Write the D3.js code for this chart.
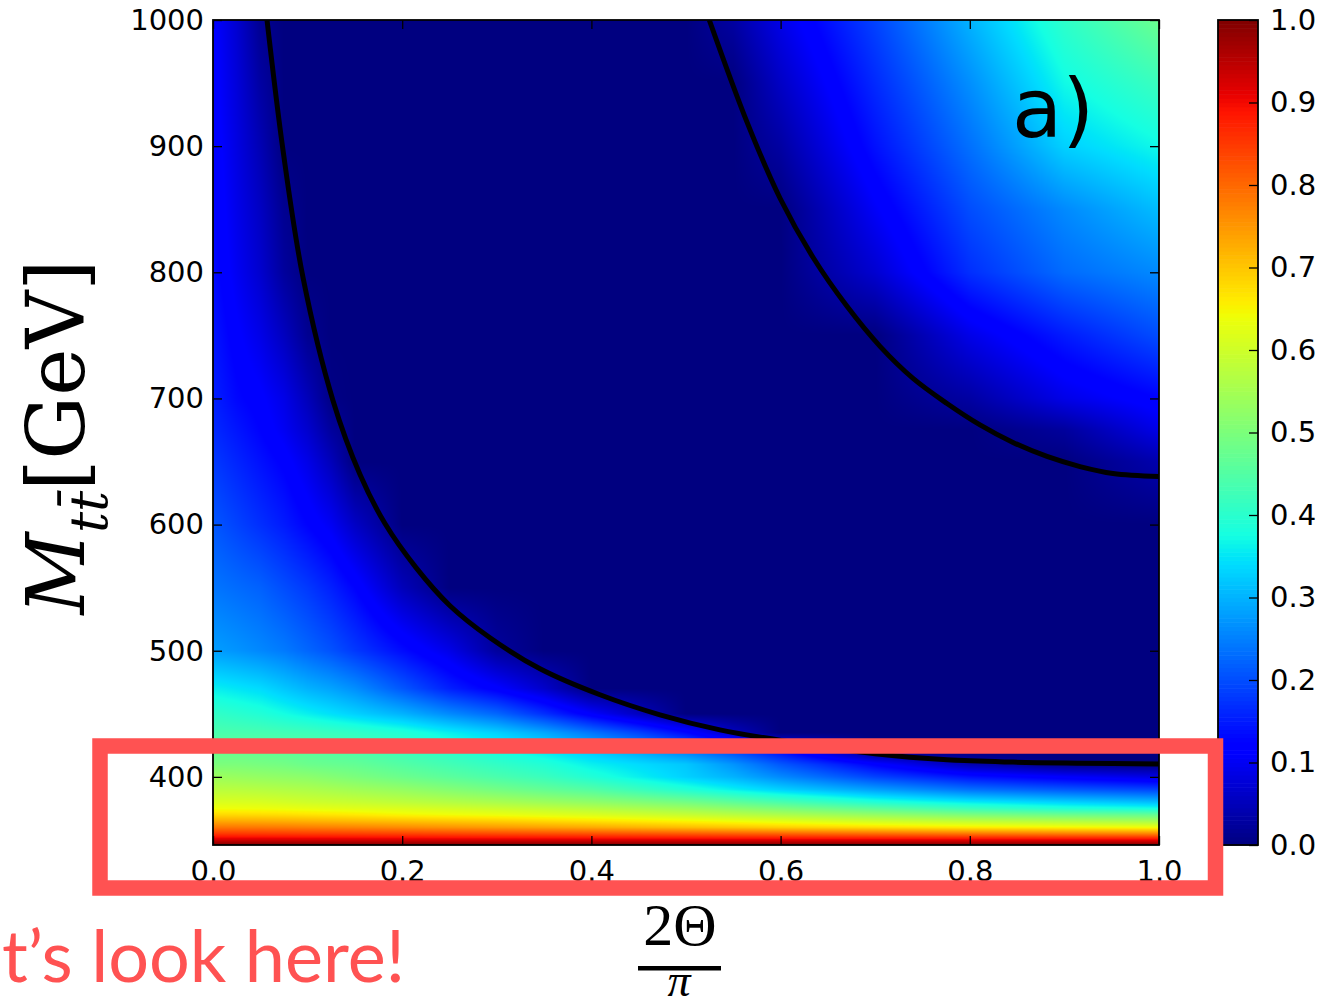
<!DOCTYPE html>
<html><head><meta charset="utf-8">
<script src="https://cdn.jsdelivr.net/npm/d3@7"></script>
<style>body{margin:0;background:#fff}svg{display:block}</style>
</head><body>
<svg id="chart" width="1340" height="1006"></svg>
<script>
// ---- data ----
const xGrid = [0, 0.025, 0.05, 0.075, 0.1, 0.125, 0.15, 0.2, 0.25, 0.3, 0.35, 0.4, 0.45, 0.5, 0.55, 0.6, 0.7, 0.8, 0.9, 1.0];
const mGrid = [346, 350, 355, 360, 365, 370, 375, 380, 390, 400, 410, 420, 435, 450, 470, 500, 550, 600, 650, 675, 700, 750, 800, 850, 900, 950, 1000];
const zGrid = [
  [1,1,1,1,1,1,1,1,1,1,1,1,1,1,1,1,1,1,1,1],
  [0.93,0.93,0.93,0.929,0.928,0.928,0.927,0.926,0.925,0.924,0.923,0.922,0.921,0.92,0.919,0.918,0.916,0.914,0.912,0.91],
  [0.85,0.85,0.849,0.848,0.846,0.845,0.843,0.84,0.836,0.832,0.828,0.824,0.82,0.815,0.81,0.805,0.795,0.785,0.777,0.77],
  [0.785,0.784,0.782,0.78,0.776,0.773,0.77,0.762,0.754,0.746,0.738,0.73,0.72,0.71,0.7,0.69,0.675,0.66,0.65,0.64],
  [0.73,0.729,0.727,0.724,0.72,0.716,0.712,0.705,0.697,0.69,0.68,0.67,0.66,0.65,0.637,0.625,0.6,0.58,0.565,0.55],
  [0.68,0.679,0.677,0.674,0.67,0.666,0.662,0.65,0.642,0.635,0.625,0.615,0.603,0.59,0.575,0.56,0.53,0.5,0.48,0.47],
  [0.64,0.639,0.637,0.634,0.63,0.626,0.622,0.615,0.605,0.595,0.583,0.57,0.555,0.54,0.52,0.5,0.46,0.42,0.39,0.375],
  [0.615,0.614,0.612,0.606,0.6,0.596,0.592,0.58,0.568,0.555,0.54,0.525,0.508,0.49,0.465,0.44,0.39,0.355,0.33,0.31],
  [0.575,0.574,0.57,0.565,0.56,0.553,0.545,0.53,0.51,0.49,0.47,0.45,0.42,0.39,0.36,0.33,0.28,0.235,0.21,0.19],
  [0.54,0.535,0.53,0.525,0.52,0.51,0.5,0.48,0.46,0.44,0.42,0.39,0.36,0.33,0.3,0.26,0.19,0.14,0.11,0.085],
  [0.5,0.5,0.495,0.49,0.48,0.475,0.47,0.45,0.43,0.41,0.39,0.36,0.34,0.32,0.27,0.21,0.12,0.04,0.005,0],
  [0.475,0.474,0.47,0.465,0.46,0.452,0.445,0.425,0.405,0.38,0.355,0.325,0.29,0.25,0.2,0.14,0,0,0,0],
  [0.44,0.438,0.435,0.43,0.425,0.418,0.41,0.39,0.36,0.33,0.29,0.24,0.19,0.13,0.055,0,0,0,0,0],
  [0.41,0.4,0.39,0.375,0.36,0.345,0.33,0.3,0.26,0.225,0.17,0.11,0.055,0,0,0,0,0,0,0],
  [0.36,0.35,0.34,0.32,0.3,0.285,0.265,0.21,0.155,0.115,0.065,0,0,0,0,0,0,0,0,0],
  [0.28,0.27,0.258,0.245,0.225,0.205,0.18,0.135,0.09,0.025,0,0,0,0,0,0,0,0,0,0],
  [0.24,0.23,0.22,0.2,0.18,0.155,0.125,0.05,0,0,0,0,0,0,0,0,0,0,0,0],
  [0.21,0.19,0.17,0.15,0.125,0.1,0.06,0,0,0,0,0,0,0,0,0,0,0,0,0],
  [0.18,0.16,0.14,0.12,0.09,0.05,0,0,0,0,0,0,0,0,0,0,0,0,0,0.04],
  [0.165,0.145,0.125,0.1,0.068,0.025,0,0,0,0,0,0,0,0,0,0,0,0,0.025,0.09],
  [0.155,0.13,0.115,0.09,0.05,0.005,0,0,0,0,0,0,0,0,0,0,0,0.03,0.09,0.125],
  [0.145,0.115,0.09,0.055,0.015,0,0,0,0,0,0,0,0,0,0,0,0,0.09,0.15,0.2],
  [0.135,0.1,0.068,0.025,0,0,0,0,0,0,0,0,0,0,0,0,0.07,0.17,0.23,0.26],
  [0.13,0.092,0.058,0.015,0,0,0,0,0,0,0,0,0,0,0,0,0.105,0.2,0.26,0.31],
  [0.125,0.085,0.045,0,0,0,0,0,0,0,0,0,0,0,0,0.03,0.14,0.235,0.33,0.37],
  [0.12,0.078,0.03,0,0,0,0,0,0,0,0,0,0,0,0,0.06,0.165,0.265,0.37,0.42],
  [0.115,0.07,0.015,0,0,0,0,0,0,0,0,0,0,0,0.03,0.09,0.19,0.3,0.405,0.48]
];
const lowerContour = [[0.0571,1000],[0.074,896.8],[0.0951,796],[0.1268,698.4],[0.1554,639.7],[0.1818,600.8],[0.2146,565.9],[0.2505,535.7],[0.2928,510.3],[0.3457,485.7],[0.4091,465.1],[0.4725,449.2],[0.5359,437.3],[0.6099,427.8],[0.6998,418.3],[0.7759,413.5],[0.8457,411.7],[0.9165,410.9],[1.0,410.3]];
const upperContour = [[0.5246,1000],[0.5645,919],[0.5994,858.7],[0.6342,811.9],[0.6702,773],[0.7051,741.3],[0.74,715.9],[0.7759,696],[0.8108,679],[0.8457,665.1],[0.8816,654],[0.9165,646],[0.9514,640.5],[1.0,638.1]];
const xTicks = [0, 0.2, 0.4, 0.6, 0.8, 1.0];
const yTicks = [400, 500, 600, 700, 800, 900, 1000];
const cbTicks = [0, 0.1, 0.2, 0.3, 0.4, 0.5, 0.6, 0.7, 0.8, 0.9, 1.0];

// ---- layout ----
const svg = d3.select("#chart");
const plot = {left:213, right:1159, top:20, bottom:845};
const cbBox = {left:1218, right:1258};
const x = d3.scaleLinear().domain([0,1]).range([plot.left, plot.right]);
const y = d3.scaleLinear().domain([346,1000]).range([plot.bottom, plot.top]);
const cb = d3.scaleLinear().domain([0,1]).range([plot.bottom, plot.top]);

// jet colormap
const jetR = d3.scaleLinear().domain([0,0.35,0.66,0.89,1]).range([0,0,1,1,0.5]).clamp(true);
const jetG = d3.scaleLinear().domain([0,0.125,0.375,0.64,0.91,1]).range([0,0,1,1,0,0]).clamp(true);
const jetB = d3.scaleLinear().domain([0,0.11,0.34,0.65,1]).range([0.5,1,1,0,0]).clamp(true);
const jet = v => [Math.round(jetR(v)*255), Math.round(jetG(v)*255), Math.round(jetB(v)*255)];

// ---- heatmap (smooth shading of the grid) ----
const pw = plot.right - plot.left, ph = plot.bottom - plot.top;
const canvas = document.createElement("canvas");
canvas.width = pw; canvas.height = ph;
const ctx = canvas.getContext("2d");
const img = ctx.createImageData(pw, ph);
function locate(grid, v){
  let k = d3.bisectRight(grid, v) - 1;
  k = Math.max(0, Math.min(grid.length - 2, k));
  return [k, Math.max(0, Math.min(1, (v - grid[k]) / (grid[k+1] - grid[k])))];
}
const cols = d3.range(pw).map(i => locate(xGrid, x.invert(plot.left + i + 0.5)));
const rows = d3.range(ph).map(j => locate(mGrid, y.invert(plot.top + j + 0.5)));
for (let j = 0; j < ph; j++) {
  const [r, tr] = rows[j];
  const z0 = zGrid[r], z1 = zGrid[r+1];
  for (let i = 0; i < pw; i++) {
    const [c, tc] = cols[i];
    const a = z0[c]*(1-tc) + z0[c+1]*tc;
    const b = z1[c]*(1-tc) + z1[c+1]*tc;
    const v = a*(1-tr) + b*tr;
    const col = jet(v);
    const p = (j*pw + i)*4;
    img.data[p] = col[0]; img.data[p+1] = col[1]; img.data[p+2] = col[2]; img.data[p+3] = 255;
  }
}
ctx.putImageData(img, 0, 0);
svg.append("image").attr("x", plot.left).attr("y", plot.top).attr("width", pw).attr("height", ph)
  .attr("preserveAspectRatio","none").attr("href", canvas.toDataURL());

// clip
svg.append("clipPath").attr("id","plotclip").append("rect")
  .attr("x", plot.left).attr("y", plot.top).attr("width", pw).attr("height", ph);

// contours
const line = d3.line().x(d => x(d[0])).y(d => y(d[1])).curve(d3.curveCatmullRom.alpha(0.5));
const cg = svg.append("g").attr("clip-path","url(#plotclip)");
[lowerContour, upperContour].forEach(c => {
  cg.append("path").attr("d", line(c)).attr("fill","none").attr("stroke","#000")
    .attr("stroke-width",5).attr("stroke-linejoin","round");
});

// axes
const fontTicks = "'DejaVu Sans', sans-serif";
function styleAxis(g){
  g.select(".domain").remove();
  g.attr("font-family", fontTicks).attr("font-size", 29).attr("color", "#000");
  g.selectAll(".tick line").attr("stroke-width", 1.3);
}
svg.append("g").attr("transform", `translate(0,${plot.bottom})`)
  .call(d3.axisBottom(x).tickValues(xTicks).tickFormat(d3.format(".1f")).tickSize(-9).tickPadding(15))
  .call(styleAxis);
svg.append("g").attr("transform", `translate(0,${plot.top})`)
  .call(d3.axisTop(x).tickValues(xTicks).tickFormat("").tickSize(-9))
  .call(styleAxis);
svg.append("g").attr("transform", `translate(${plot.left},0)`)
  .call(d3.axisLeft(y).tickValues(yTicks).tickFormat(d3.format("d")).tickSize(-9).tickPadding(9))
  .call(styleAxis);
svg.append("g").attr("transform", `translate(${plot.right},0)`)
  .call(d3.axisRight(y).tickValues(yTicks).tickFormat("").tickSize(-9))
  .call(styleAxis);
svg.append("rect").attr("x", plot.left).attr("y", plot.top).attr("width", pw).attr("height", ph)
  .attr("fill","none").attr("stroke","#000").attr("stroke-width",1.8);

// panel label
svg.append("text").attr("x", 1012).attr("y", 137).attr("font-family", fontTicks)
  .attr("font-size", 82).attr("fill","#000").text("a)");

// colorbar
const nLev = 200;
const cbg = svg.append("g");
cbg.selectAll("rect").data(d3.range(nLev)).join("rect")
  .attr("x", cbBox.left).attr("width", cbBox.right - cbBox.left)
  .attr("y", k => cb((k+1)/nLev))
  .attr("height", k => cb(k/nLev) - cb((k+1)/nLev) + 0.6)
  .attr("fill", k => { const c = jet((k+0.5)/nLev); return `rgb(${c[0]},${c[1]},${c[2]})`; });
svg.append("g").attr("transform", `translate(${cbBox.right},0)`)
  .call(d3.axisRight(cb).tickValues(cbTicks).tickFormat(d3.format(".1f")).tickSize(-9).tickPadding(12))
  .call(styleAxis);
svg.append("rect").attr("x", cbBox.left).attr("y", plot.top).attr("width", cbBox.right - cbBox.left).attr("height", ph)
  .attr("fill","none").attr("stroke","#000").attr("stroke-width",1.8);

// y label
const yl = svg.append("text").attr("transform","translate(84,437) rotate(-90)")
  .attr("text-anchor","middle").attr("font-family","'DejaVu Serif', serif").attr("font-size",80).attr("fill","#000");
yl.append("tspan").attr("font-style","italic").text("M");
yl.append("tspan").attr("font-style","italic").attr("font-size",52).attr("dy",23).text("tt\u0304");
yl.append("tspan").attr("dy",-23).text("[GeV]");

// x label (fraction)
const xl = svg.append("g").attr("font-family","'Liberation Serif', serif").attr("fill","#000");
xl.append("text").attr("x",680).attr("y",945).attr("text-anchor","middle").attr("font-size",60).text("2Θ");
xl.append("rect").attr("x",638).attr("y",966).attr("width",83).attr("height",4.5).attr("fill","#000");
xl.append("text").attr("x",679).attr("y",996).attr("text-anchor","middle").attr("font-size",46).attr("font-style","italic").text("π");

// annotation overlay
svg.append("rect").attr("x",100).attr("y",746).attr("width",1115.5).attr("height",142)
  .attr("fill","none").attr("stroke","#ff5252").attr("stroke-width",15.5);
svg.append("text").attr("x",2).attr("y",982).attr("font-family","Lato, sans-serif").attr("font-size",72)
  .attr("fill","#ff5252").text("t’s look here!");
</script>
</body></html>
